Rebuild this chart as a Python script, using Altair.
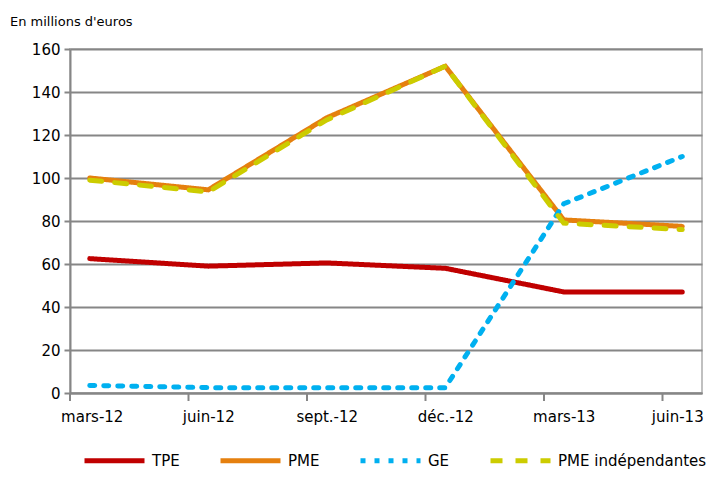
import altair as alt
import pandas as pd

months = [0, 3, 6, 9, 12, 15]
month_labels = ["mars-12", "juin-12", "sept.-12", "déc.-12", "mars-13", "juin-13"]
tick_positions = [-0.5, 2.5, 5.5, 8.5, 11.5, 14.5]

tpe = [62.5, 59, 60.5, 58, 47, 47]
pme = [100, 94.5, 128, 152, 80.5, 77.5]
ge = [3.5, 2.5, 2.5, 2.5, 88, 110]
pme_ind = [99, 93.5, 127, 152, 79, 76]

series_names = ["TPE", "PME", "GE", "PME indépendantes"]
series_colors = ["#c00000", "#e5800f", "#00b0f0", "#cccc00"]
series_dash = [[1, 0], [1, 0], [5, 9], [12, 13]]
draw_order = {"TPE": 0, "PME": 1, "PME indépendantes": 2, "GE": 3}

rows = []
for name, vals in zip(series_names, [tpe, pme, ge, pme_ind]):
    for m, v in zip(months, vals):
        rows.append({"serie": name, "mois": m, "valeur": v, "ordre": draw_order[name]})
df = pd.DataFrame(rows)

label_expr = "{" + ",".join(f"'{m}':'{l}'" for m, l in zip(months, month_labels)) + "}[datum.value]"

FONT = "DejaVu Sans"

x_scale = alt.Scale(domain=[-0.5, 15.5], nice=False, zero=False)
y_scale = alt.Scale(domain=[0, 160], nice=False)

lines = alt.Chart(df).mark_line(strokeWidth=5, strokeCap="round", strokeJoin="miter").encode(
    x=alt.X("mois:Q", scale=x_scale,
            axis=alt.Axis(values=months, labelExpr=label_expr, title=None, ticks=False,
                          grid=False, domainColor="#868686", domainWidth=2,
                          labelFontSize=15, labelFont=FONT, labelColor="#000000",
                          labelPadding=16, labelFlush=False,
                          labelOffset=alt.expr("datum.value == 15 ? -5 : (datum.value == 0 ? 2 : 0)"))),
    y=alt.Y("valeur:Q", scale=y_scale,
            axis=alt.Axis(values=list(range(0, 161, 20)), title=None,
                          tickColor="#868686", tickWidth=2, tickSize=6,
                          gridColor="#868686", gridWidth=2,
                          domainColor="#868686", domainWidth=2,
                          labelFontSize=15, labelFont=FONT, labelColor="#000000",
                          labelPadding=4)),
    color=alt.Color("serie:N",
                    scale=alt.Scale(domain=series_names, range=series_colors),
                    legend=alt.Legend(title=None, orient="none", direction="horizontal",
                                      legendX=12, legendY=379,
                                      symbolType="stroke", symbolSize=3600,
                                      symbolStrokeWidth=5, labelFontSize=15,
                                      labelFont=FONT, labelColor="#000000",
                                      columnPadding=30, labelOffset=5)),
    strokeDash=alt.StrokeDash("serie:N",
                              scale=alt.Scale(domain=series_names, range=series_dash),
                              legend=None),
    order=alt.Order("ordre:Q"),
    detail="serie:N",
)

ticks_df = pd.DataFrame({"pos": tick_positions})
xticks = alt.Chart(ticks_df).mark_rule(color="#868686", strokeWidth=2).encode(
    x=alt.X("pos:Q", scale=x_scale),
    y=alt.value(344),
    y2=alt.value(352),
)

title_df = pd.DataFrame({"t": ["En millions d'euros"]})
title = alt.Chart(title_df).mark_text(align="left", baseline="middle", fontSize=13,
                                      font=FONT, color="#000000").encode(
    text="t:N", x=alt.value(-60), y=alt.value(-27)
)

chart = alt.layer(xticks, lines, title).properties(
    width=632,
    height=344,
    autosize=alt.AutoSizeParams(type="none"),
    padding={"left": 62, "top": 41, "right": 5, "bottom": 76},
).configure_view(stroke="#c0c0c0", strokeWidth=2)

chart.save("out.html", embed_options={"renderer": "svg", "actions": False})
